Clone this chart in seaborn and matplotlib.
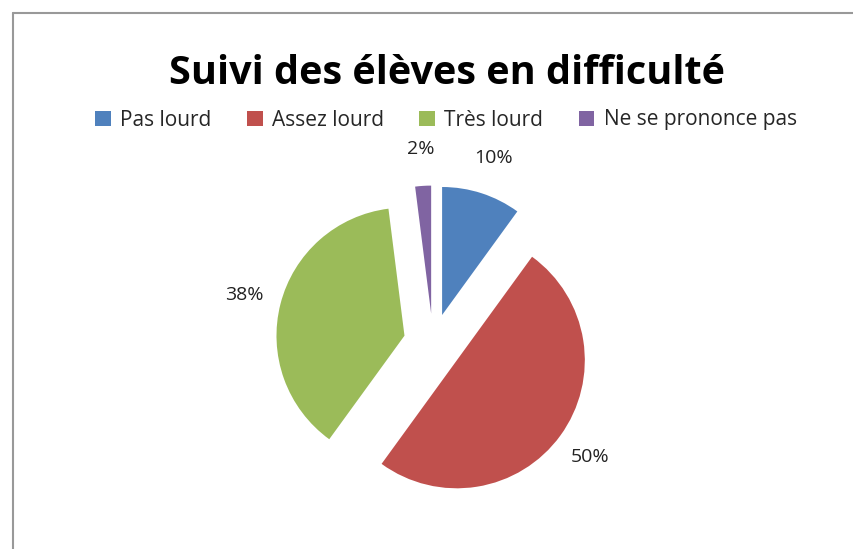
import numpy as np
import pandas as pd
import matplotlib
matplotlib.use("Agg")
import matplotlib.pyplot as plt
import seaborn as sns
from matplotlib.lines import Line2D

# Data
categories = ["Pas lourd", "Assez lourd", "Très lourd", "Ne se prononce pas"]
values = [10, 50, 38, 2]
colors = ["#4F81BD", "#C0504D", "#9BBB59", "#8064A2"]

sns.set_style("white")
plt.rcParams['font.family'] = ['Open Sans', 'DejaVu Sans']

fig = plt.figure(figsize=(8.54, 5.49), dpi=100)
ax = fig.add_axes([0, 0, 1, 1])

wedges, texts, autotexts = ax.pie(
    values, colors=colors, startangle=90, counterclock=False,
    explode=[0.23] * len(values), autopct='%1.0f%%', pctdistance=1.29,
    wedgeprops=dict(linewidth=0), textprops=dict(fontsize=14, color='#222222'))

# pie centre at (433, 343) px, radius 128 px
r_px = 128
ax.set_xlim(-433 / r_px, (854 - 433) / r_px)
ax.set_ylim(-(549 - 343) / r_px, 343 / r_px)
ax.set_aspect('auto')
ax.axis('off')

fig.text(447 / 854, 1 - 74 / 549, "Suivi des élèves en difficulté", ha='center', va='center',
         fontsize=28.5, fontweight='bold', color='black')

fig.legend(wedges, categories, loc='center', bbox_to_anchor=(446 / 854, 1 - 120 / 549),
           ncol=4, frameon=False, fontsize=15, handlelength=0.75, handleheight=0.75,
           handletextpad=0.45, columnspacing=1.7)

# chart border (top and left only visible)
fig.add_artist(Line2D([13 / 854, 13 / 854], [0, 1 - 13 / 549], color='#999999', lw=1.5))
fig.add_artist(Line2D([13 / 854, 1], [1 - 13 / 549, 1 - 13 / 549], color='#999999', lw=1.5))

fig.savefig("out.png", dpi=100)
